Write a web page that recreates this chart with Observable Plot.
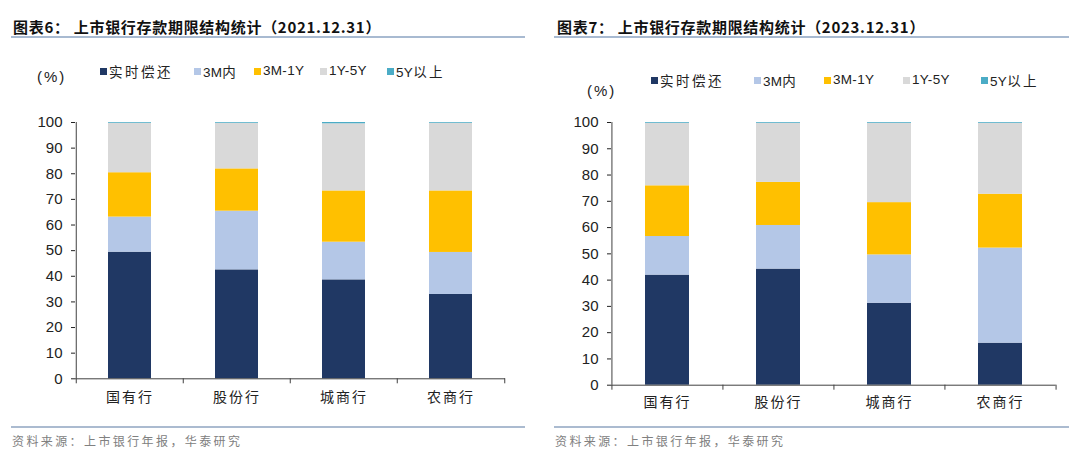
<!DOCTYPE html>
<html>
<head>
<meta charset="utf-8">
<script src="https://cdn.jsdelivr.net/npm/d3@7"></script>
<script src="https://cdn.jsdelivr.net/npm/@observablehq/plot@0.6"></script>
<style>
  html, body { margin: 0; padding: 0; background: #fff; }
  #root { position: relative; width: 1080px; height: 456px; overflow: hidden; background: #fff; }
  .abs { position: absolute; white-space: nowrap; }
  .title { font-family: "Noto Sans CJK SC", sans-serif; font-weight: bold; font-size: 15px; letter-spacing: 0.7px; color: #111; line-height: 20px; }
  .rule { height: 2px; background: #a8bad1; }
  .foot { font-family: "Noto Sans CJK SC", sans-serif; font-size: 12px; letter-spacing: 2.4px; color: #808080; line-height: 16px; }
  .pct { font-family: "Liberation Sans", Arial, sans-serif; font-size: 15px; letter-spacing: 2px; color: #222; line-height: 18px; }
  .lg { font-size: 13.5px; color: #222; line-height: 18px; }
  .lg .sq { display: inline-block; width: 7px; height: 7px; position: absolute; left: 0; top: 6px; }
  .lg .tx { position: absolute; left: 9px; top: 0; }
  .cjk { font-family: "Noto Sans CJK SC", sans-serif; letter-spacing: 2.5px; }
  .lat { font-family: "Liberation Sans", Arial, sans-serif; letter-spacing: 0.3px; }
  svg { position: absolute; }
</style>
</head>
<body>
<div id="root"></div>
<script>
// ---------- data ----------
const banks = ["国有行", "股份行", "城商行", "农商行"];
const seriesNames = ["实时偿还", "3M内", "3M-1Y", "1Y-5Y", "5Y以上"];
const seriesColors = ["#203864", "#b4c7e7", "#ffc000", "#d9d9d9", "#4bacc6"];
const yTicks = [0, 10, 20, 30, 40, 50, 60, 70, 80, 90, 100];

// 2021.12.31 (%)
const demand2021 = [49.4, 42.5, 38.6, 32.9];
const within3m2021 = [13.7, 22.9, 14.7, 16.4];
const m3to1y2021 = [17.3, 16.5, 20.0, 24.0];
const y1to5y2021 = [19.3, 17.8, 26.2, 26.4];
const over5y2021 = [0.3, 0.3, 0.5, 0.3];

// 2023.12.31 (%)
const demand2023 = [41.9, 44.2, 31.2, 16.0];
const within3m2023 = [14.7, 16.6, 18.4, 36.2];
const m3to1y2023 = [19.3, 16.4, 19.9, 20.5];
const y1to5y2023 = [23.8, 22.5, 30.2, 27.0];
const over5y2023 = [0.3, 0.3, 0.3, 0.3];

const title2021 = "图表6：  上市银行存款期限结构统计（2021.12.31）";
const title2023 = "图表7：  上市银行存款期限结构统计（2023.12.31）";
const sourceText = "资料来源：上市银行年报，华泰研究";
const unitText = "(%)";

function buildTable(cols) {
  const rows = [];
  cols.forEach((vals, s) => {
    vals.forEach((v, i) => rows.push({bank: banks[i], series: seriesNames[s], value: v}));
  });
  return rows;
}
const table2021 = buildTable([demand2021, within3m2021, m3to1y2021, y1to5y2021, over5y2021]);
const table2023 = buildTable([demand2023, within3m2023, m3to1y2023, y1to5y2023, over5y2023]);

const root = document.getElementById("root");

function addDiv(cls, left, top, html, extra) {
  const d = document.createElement("div");
  d.className = "abs " + cls;
  d.style.left = left + "px";
  d.style.top = top + "px";
  if (extra) Object.assign(d.style, extra);
  d.innerHTML = html;
  root.appendChild(d);
  return d;
}

function legendLabel(name) {
  // split CJK vs latin runs
  return name.replace(/([^\u4e00-\u9fff]+)|([\u4e00-\u9fff]+)/g, (m, lat, cjk) =>
    lat ? `<span class="lat">${lat}</span>` : `<span class="cjk">${cjk}</span>`);
}

function chart(cfg) {
  const {table, left, ml, mr, mb, labelDy, legendXs, legendY, pctX, pctY, title, titleX, ruleX, ruleW, footX} = cfg;
  const W = 540, H = 320, mt = 22;
  const step = (W - ml - mr) / banks.length;
  const svg = Plot.plot({
    width: W, height: H,
    marginLeft: ml, marginRight: mr, marginTop: mt, marginBottom: mb,
    x: {domain: banks, paddingInner: 0.6, paddingOuter: 0.3, axis: null},
    y: {domain: [0, 100], ticks: yTicks, tickSize: 4, tickPadding: 9, label: null},
    color: {domain: seriesNames, range: seriesColors},
    style: {fontFamily: "'Liberation Sans', Arial, sans-serif", fontSize: "15px", color: "#222", background: "transparent", overflow: "visible"},
    marks: [
      Plot.barY(table, {x: "bank", y: "value", fill: "series"}),
      Plot.ruleY([0], {stroke: "#404040", strokeWidth: 1}),
      Plot.ruleX([banks[0]], {dx: -step / 2, y1: 0, y2: 100, stroke: "#404040"}),
      Plot.ruleX(banks, {dx: -step / 2, y1: 0, y2: 0, insetBottom: -5, stroke: "#404040"}),
      Plot.ruleX([banks[banks.length - 1]], {dx: step / 2, y1: 0, y2: 0, insetBottom: -5, stroke: "#404040"}),
      Plot.text(banks, {x: d => d, frameAnchor: "bottom", dy: labelDy, text: d => d, fontSize: 14,
        fontFamily: "'Noto Sans CJK SC', sans-serif", fill: "#222", style: "letter-spacing:2px"})
    ]
  });
  svg.style.left = left + "px";
  svg.style.top = "100px";
  svg.querySelectorAll('g[aria-label^="text"] text').forEach(t => t.setAttribute("letter-spacing", "2px"));
  root.appendChild(svg);

  addDiv("title", titleX, 17, title);
  addDiv("rule", ruleX, 36, "", {width: ruleW + "px"});
  addDiv("rule", ruleX, 426, "", {width: ruleW + "px", background: "#abbbd0"});
  addDiv("foot", footX, 433, sourceText);
  addDiv("pct", pctX, pctY - 9, unitText);
  seriesNames.forEach((s, i) => {
    const d = addDiv("lg", legendXs[i], legendY - 9, `<span class="sq" style="background:${seriesColors[i]}"></span><span class="tx">${legendLabel(s)}</span>`);
  });
}

chart({
  table: table2021, left: 0, ml: 75, mr: 35, mb: 41.7, labelDy: 23,
  legendXs: [100, 194, 254, 320, 387], legendY: 71, pctX: 37, pctY: 77,
  title: title2021, titleX: 13, ruleX: 11, ruleW: 514, footX: 12
});
chart({
  table: table2023, left: 540, ml: 71, mr: 24.4, mb: 35.3, labelDy: 22,
  legendXs: [651, 754, 824, 903, 981], legendY: 80, pctX: 587, pctY: 91,
  title: title2023, titleX: 557, ruleX: 554, ruleW: 515, footX: 555
});
</script>
</body>
</html>
